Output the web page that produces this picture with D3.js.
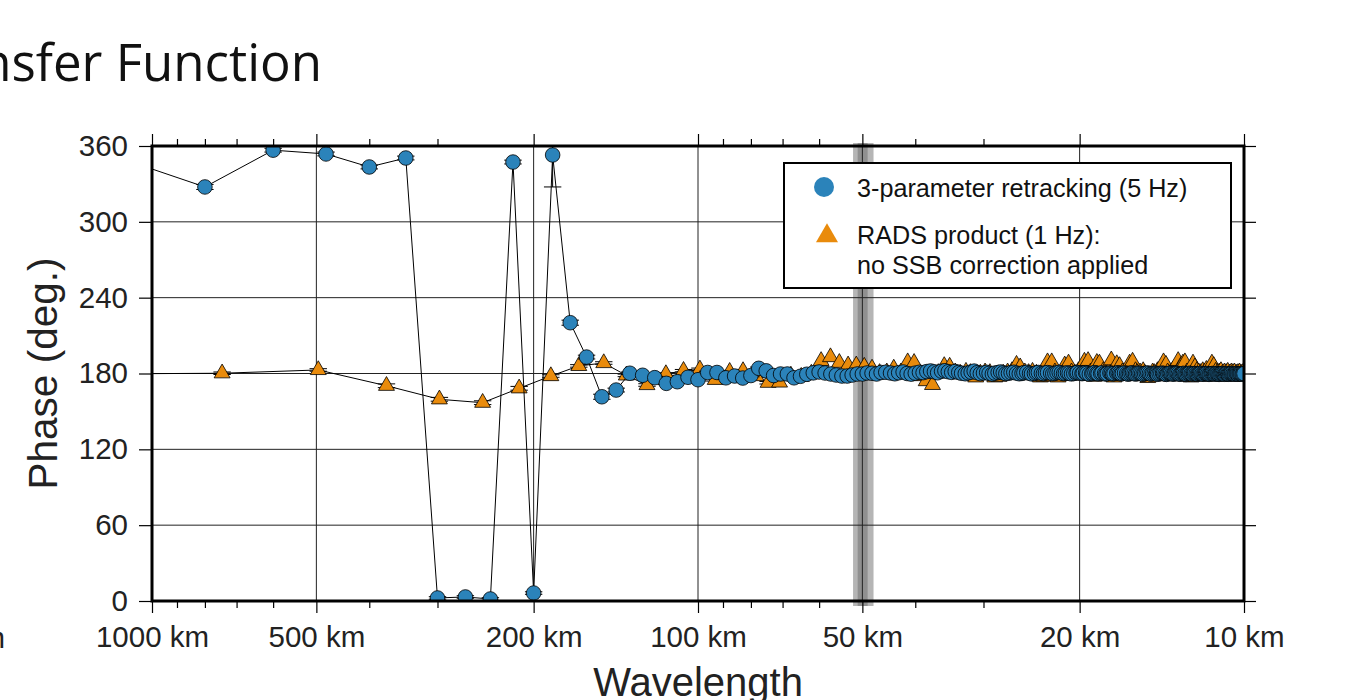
<!DOCTYPE html>
<html><head><meta charset="utf-8">
<script src="https://cdn.jsdelivr.net/npm/d3@7"></script>
<style>body{margin:0;background:#fff}svg{display:block}</style>
</head><body>
<svg id="c" width="1372" height="700"></svg>
<script>
// ---------------- data ----------------
const xMajorTicks = [1000, 500, 200, 100, 50, 20, 10];
const xMinorTicks = [900, 800, 700, 600, 400, 300, 90, 80, 70, 60, 40, 30];
const xGrid = [500, 200, 100, 50, 20];
const yTicks = [0, 60, 120, 180, 240, 300, 360];
const yGrid = [60, 120, 180, 240, 300];
const bandOuter = [52, 47.7];
const bandInner = [51, 48.9];

// 3-parameter retracking (5 Hz): wavelength (km) and phase (deg)
const blueWavelength = [1200,800,600,480,400,342.9,300,266.7,240,218.2,200,184.6,171.4,160,150,141.2,133.3,126.3,120,114.3,
109.1,104.3,100,96,92.3,88.9,85.7,82.8,80,77.4,75,72.7,70.6,68.6,66.7,64.9,63.2,61.5,60,58.5,
57.1,55.8,54.5,53.3,52.2,51.1,50,49,48,47.1,46.2,45.3,44.4,43.6,42.9,42.1,41.4,40.7,40,39.3,
38.7,38.1,37.5,36.9,36.4,35.8,35.3,34.8,34.3,33.8,33.3,32.9,32.4,32,31.6,31.2,30.8,30.4,30,29.6,
29.3,28.9,28.6,28.2,27.9,27.6,27.3,27,26.7,26.4,26.1,25.8,25.5,25.3,25,24.7,24.5,24.2,24,23.8,
23.5,23.3,23.1,22.9,22.6,22.4,22.2,22,21.8,21.6,21.4,21.24,21.05,20.9,20.7,20.5,20.3,20.2,20,19.8,
19.7,19.5,19.4,19.2,19,18.9,18.75,18.6,18.5,18.3,18.2,18,17.9,17.8,17.6,17.5,17.4,17.3,17.1,17,
16.9,16.8,16.7,16.55,16.4,16.3,16.2,16.1,16,15.9,15.8,15.7,15.6,15.5,15.4,15.3,15.2,15.1,15,14.9,
14.8,14.7,14.6,14.5,14.46,14.4,14.3,14.2,14.1,14.04,13.95,13.87,13.79,13.71,13.64,13.56,13.48,13.41,13.33,13.26,
13.19,13.11,13.04,12.97,12.9,12.83,12.77,12.7,12.63,12.57,12.5,12.44,12.37,12.31,12.24,12.18,12.12,12.06,12,11.94,
11.88,11.82,11.76,11.71,11.65,11.59,11.54,11.48,11.43,11.37,11.32,11.27,11.21,11.16,11.11,11.06,11.01,10.96,10.91,10.86,
10.81,10.76,10.71,10.67,10.62,10.57,10.53,10.48,10.43,10.39,10.34,10.3,10.26,10.21,10.17,10.13,10.08,10.04,10];
const bluePhase = [353.4,327.6,356.7,353.7,343.4,350.5,2.4,3.2,1.6,347.3,6.3,352.9,220.2,193,161.6,166.9,180.2,178.6,176.7,172.2,
173.5,177,175.1,180.8,180.8,176.6,178,176.4,178.4,184.1,182.1,178.4,179.6,179.6,176.6,177.8,179.4,180.5,181.2,180.4,
179.6,178.8,178,178,178.8,179.6,179.6,180.4,
180.2,179.6,180.8,181.0,180.4,179.8,180.6,181.2,180.0,179.5,
180.3,181.0,180.7,181.5,182.0,181.3,180.6,181.8,182.2,181.4,
180.9,181.6,180.8,180.2,179.8,180.5,181.1,181.9,180.6,179.9,
180.4,180.9,180.1,179.6,180.3,180.8,181.2,180.5,179.9,180.2,
180.7,181.0,180.3,179.8,180.1,180.6,180.9,180.2,179.7,180.0,
180.5,180.8,180.2,179.9,180.4,180.7,180.3,179.8,180.1,180.6,
180.9,180.4,179.9,180.2,180.5,180.1,179.7,180.0,180.4,180.8,
180.3,179.9,180.2,180.6,180.1,179.6,179.9,180.3,180.7,180.2,
179.8,180.1,180.5,180.0,179.6,179.9,180.4,180.2,179.7,180.0,
180.3,180.6,180.1,179.7,180.0,180.4,179.9,179.5,179.8,180.2,
180.5,180.0,179.6,179.9,180.3,180.1,179.7,179.4,179.8,180.2,
180.4,179.9,179.5,179.8,180.1,180.3,179.8,179.4,179.7,180.0,
180.3,179.9,179.6,179.3,179.7,180.1,180.2,179.8,179.5,179.7,
180.0,180.2,179.8,179.4,179.6,179.9,180.1,179.7,179.3,179.6,
179.9,180.2,179.8,179.5,179.7,180.0,179.8,179.4,179.6,179.9,
180.1,179.7,179.4,179.6,179.9,180.0,179.7,179.3,179.5,179.8,
180.0,179.8,179.5,179.7,179.9,179.6,179.3,179.6,179.8,180.0,
179.7,179.4,179.6,179.9,179.7,179.4,179.5,179.8,180.0,179.7,
179.5,179.6,179.9,179.7,179.4,179.6,179.8,179.7,179.5,179.8,179.9];
// error (deg) for the first, sparse points of the 5 Hz series
const blueErr = [2,2,1.5,1.5,1.5,1.5,1,1,1,1.5,1,25.3,2,1.5,2,1.5,1,1,1,1,1,1,1,1,1,1,1,1,1,1];

// RADS product (1 Hz)
const radsWavelength = [1488,744,496,372,297.6,248,212.6,186,165.3,148.8,135.3,124,114.5,106.3,99.2,93,87.5,82.7,78.3,74.4,
70.9,67.6,64.7,62,59.5,57.2,55.1,53.1,51.3,49.6,48,46.5,45.1,43.8,42.5,41.3,40.2,39.2,38.2,37.2,
36.3,35.4,34.6,33.8,33.1,32.3,31.7,31,30.4,29.8,29.2,28.6,28.1,27.6,27.1,26.6,26.1,25.7,25.2,24.8,
24.4,24,23.6,23.25,22.9,22.5,22.2,21.9,21.6,21.3,20.96,20.7,20.4,20.1,19.8,19.6,19.3,19.1,18.8,18.6,
18.4,18.1,17.9,17.7,17.5,17.3,17.1,16.9,16.7,16.5,16.35,16.2,16,15.8,15.7,15.5,15.3,15.2,15,14.9,
14.7,14.6,14.4,14.3,14.2,14.04,13.9,13.8,13.65,13.5,13.4,13.3,13.2,13.05,12.94,12.83,12.72,12.61,12.5,12.4,
12.3,12.2,12.1,12,11.9,11.81,11.72,11.63,11.53,11.45,11.36,11.27,11.19,11.1,11.02,10.94,10.86,10.78,10.71,10.63,
10.55,10.48,10.41,10.33,10.26,10.19,10.12,10.05];
const radsPhase = [179.5,180.2,182.8,170.3,159.6,156.9,168.3,178,186,188.3,178.5,170.9,179.6,182.2,183.3,175,181.4,182,178,172.7,
172.9,178.5,177.5,180,190,193,188.5,186.5,186.5,185.5,184,180.5,181,184,181,189,188.5,178,174,171,
180.5,186,185.5,181,180,181.5,180.5,177,180,181,180.5,177,177.5,180,181,182,187,185,181,180.5,
181.5,180,177,177.5,189,189,181,177,180.5,186.5,188,181,180,182,183,189.5,190,181,177.5,188.5,
188,182,180,181.5,190.5,177,187.5,186,181,180,182,188,189.5,182,180.5,181,182,180,176.5,178,
181,180.5,182,181,183,189,187,181,180,182.5,181,183,190,186,188,189,181,180,177,188,
185,182,181,180.5,182,181,183,181,180,188,186,181.5,180.5,181,182,180,181,180.5,181.5,180,
181,180.5,181,180,180.5,181,180,180.5];
const radsErr = [1,1,1,1.5,1.5,1.5,1.5,1,1,1,1,1,1,1,1,1,1,1,1,1];

// ---------------- chart ----------------
const svg = d3.select("#c");
const L = 152, R = 1244, T = 146, B = 601;
const x = d3.scaleLog().domain([1000, 10]).range([L, R]);
const y = d3.scaleLinear().domain([0, 360]).range([B, T]);
const AX = "'Liberation Sans', Arial, Helvetica, sans-serif";
const BLUE = "#2b83ba", ORANGE = "#e98b0c";
const TICKFS = 29.5;

const blue = blueWavelength.map((w, i) => ({w, p: bluePhase[i], e: blueErr[i]}));
const rads = radsWavelength.map((w, i) => ({w, p: radsPhase[i], e: radsErr[i]}));

svg.append("defs").append("clipPath").attr("id", "plot")
  .append("rect").attr("x", L).attr("y", T).attr("width", R - L).attr("height", B - T);

// title (clipped at left edge of the page, as in the source figure)
svg.append("text").attr("x", 322).attr("y", 81).attr("text-anchor", "end")
  .attr("font-family", "'Open Sans', 'Noto Sans', sans-serif").attr("font-size", 51)
  .attr("fill", "#111").text("Transfer Function");

// label of a neighbouring panel, cut at the page edge
svg.append("text").attr("x", 5).attr("y", 648).attr("text-anchor", "end")
  .attr("font-family", AX).attr("font-size", TICKFS).attr("fill", "#222").text("10 km");

// grey band around 50 km
svg.append("rect").attr("x", x(bandOuter[0])).attr("width", x(bandOuter[1]) - x(bandOuter[0]))
  .attr("y", T - 3).attr("height", B - T + 8).attr("fill", "#b5b5b5");
svg.append("rect").attr("x", x(bandInner[0])).attr("width", x(bandInner[1]) - x(bandInner[0]))
  .attr("y", T - 3).attr("height", B - T + 8).attr("fill", "#909090");

// grid
const grid = svg.append("g").attr("stroke", "#222").attr("stroke-width", 1);
grid.selectAll(".gx").data(xGrid).join("line")
  .attr("x1", d => x(d)).attr("x2", d => x(d)).attr("y1", T).attr("y2", B);
grid.selectAll(".gy").data(yGrid).join("line")
  .attr("y1", d => y(d)).attr("y2", d => y(d)).attr("x1", L).attr("x2", R);

const plot = svg.append("g").attr("clip-path", "url(#plot)");
const line = d3.line().x(d => x(d.w)).y(d => y(d.p));
const capW = 8.7;

function errBars(g, data) {
  const d2 = data.filter(d => d.e != null);
  g.selectAll("line.v").data(d2).join("line").attr("class", "v")
    .attr("x1", d => x(d.w)).attr("x2", d => x(d.w))
    .attr("y1", d => y(d.p - d.e)).attr("y2", d => y(d.p + d.e))
    .attr("stroke", "#000").attr("stroke-width", 1);
  g.selectAll("line.lo").data(d2).join("line").attr("class", "lo")
    .attr("x1", d => x(d.w) - capW).attr("x2", d => x(d.w) + capW)
    .attr("y1", d => y(d.p - d.e)).attr("y2", d => y(d.p - d.e))
    .attr("stroke", "#000").attr("stroke-width", 1);
  g.selectAll("line.hi").data(d2).join("line").attr("class", "hi")
    .attr("x1", d => x(d.w) - capW).attr("x2", d => x(d.w) + capW)
    .attr("y1", d => y(d.p + d.e)).attr("y2", d => y(d.p + d.e))
    .attr("stroke", "#000").attr("stroke-width", 1);
}

// RADS series
plot.append("path").datum(rads).attr("d", line).attr("fill", "none")
  .attr("stroke", "#000").attr("stroke-width", 1);
errBars(plot.append("g"), rads);
const tri = d3.symbol().type(d3.symbolTriangle).size(110);
plot.append("g").selectAll("path").data(rads).join("path")
  .attr("d", tri).attr("transform", d => `translate(${x(d.w)},${y(d.p)})`)
  .attr("fill", ORANGE).attr("stroke", "#000").attr("stroke-width", 0.8);

// 5 Hz series
plot.append("path").datum(blue).attr("d", line).attr("fill", "none")
  .attr("stroke", "#000").attr("stroke-width", 1);
errBars(plot.append("g"), blue);
plot.append("g").selectAll("circle").data(blue).join("circle")
  .attr("cx", d => x(d.w)).attr("cy", d => y(d.p)).attr("r", 7.3)
  .attr("fill", BLUE).attr("stroke", "#000").attr("stroke-width", 0.8);

// frame
svg.append("rect").attr("x", L).attr("y", T).attr("width", R - L).attr("height", B - T)
  .attr("fill", "none").attr("stroke", "#000").attr("stroke-width", 3);

// axes
function styleAxis(g) {
  g.select(".domain").remove();
  g.selectAll(".tick line").attr("stroke", "#000").attr("stroke-width", 1.2);
  g.selectAll(".tick text").attr("font-family", AX).attr("font-size", TICKFS).attr("fill", "#222");
}
svg.append("g").attr("transform", `translate(0,${B})`)
  .call(d3.axisBottom(x).tickValues(xMajorTicks).tickFormat(d => d + " km").tickSize(12).tickPadding(13))
  .call(styleAxis);
svg.append("g").attr("transform", `translate(0,${B})`)
  .call(d3.axisBottom(x).tickValues(xMinorTicks).tickFormat("").tickSize(7)).call(styleAxis);
svg.append("g").attr("transform", `translate(0,${T})`)
  .call(d3.axisTop(x).tickValues(xMajorTicks).tickFormat("").tickSize(12)).call(styleAxis);
svg.append("g").attr("transform", `translate(0,${T})`)
  .call(d3.axisTop(x).tickValues(xMinorTicks).tickFormat("").tickSize(7)).call(styleAxis);
svg.append("g").attr("transform", `translate(${L},0)`)
  .call(d3.axisLeft(y).tickValues(yTicks).tickSize(13).tickPadding(11)).call(styleAxis);
svg.append("g").attr("transform", `translate(${R},0)`)
  .call(d3.axisRight(y).tickValues(yTicks).tickFormat("").tickSize(12)).call(styleAxis);

// axis titles
svg.append("text").attr("transform", `translate(57,${(T + B) / 2}) rotate(-90)`)
  .attr("text-anchor", "middle").attr("font-family", AX).attr("font-size", 40.5)
  .attr("fill", "#222").text("Phase (deg.)");
svg.append("text").attr("x", (L + R) / 2).attr("y", 696).attr("text-anchor", "middle")
  .attr("font-family", AX).attr("font-size", 40).attr("fill", "#222").text("Wavelength");

// legend
const lg = svg.append("g");
lg.append("rect").attr("x", 784).attr("y", 163).attr("width", 447).attr("height", 125)
  .attr("fill", "#fff").attr("stroke", "#000").attr("stroke-width", 2);
lg.append("circle").attr("cx", 824).attr("cy", 187).attr("r", 10).attr("fill", BLUE);
lg.append("path").attr("d", d3.symbol().type(d3.symbolTriangle).size(210)())
  .attr("transform", "translate(827,236)").attr("fill", ORANGE);
const lt = lg.append("g").attr("font-family", AX).attr("font-size", 25.2).attr("fill", "#111");
lt.append("text").attr("x", 857).attr("y", 197).text("3-parameter retracking (5 Hz)");
lt.append("text").attr("x", 857).attr("y", 244).text("RADS product (1 Hz):");
lt.append("text").attr("x", 857).attr("y", 274).text("no SSB correction applied");
</script>
</body></html>
